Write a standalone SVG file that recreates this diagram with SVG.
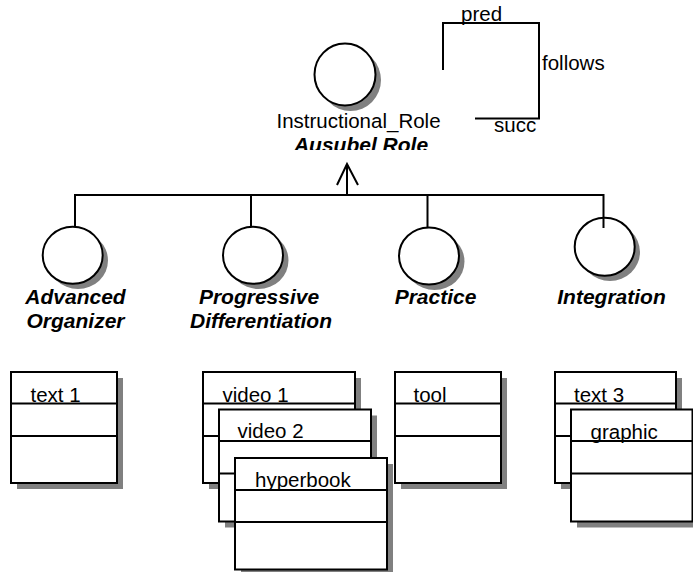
<svg xmlns="http://www.w3.org/2000/svg" width="693" height="572" viewBox="0 0 693 572">
<defs>
<style>
.t{font-family:"Liberation Sans",Arial,sans-serif;font-size:20.5px;fill:#000}
.b{font-family:"Liberation Sans",Arial,sans-serif;font-size:21px;font-weight:bold;font-style:italic;fill:#000;text-anchor:middle}
.sh{fill:#808080;stroke:none}
.bx{fill:#fff;stroke:#000;stroke-width:2}
.ln{fill:none;stroke:#000;stroke-width:2}
</style>
<clipPath id="clipAus"><rect x="0" y="0" width="693" height="150"/></clipPath>
</defs>
<rect width="693" height="572" fill="#fff"/>

<g id="connectors">
<path class="ln" d="M75,227 V195 H603.5 V228 M251,195 V227 M427.5,195 V227 M347,195 V164"/>
<path class="ln" d="M337,185 L347,164 L358,185"/>
<path class="ln" d="M443,70 V23 H539 V118.5 H475"/>
<text class="t" x="461" y="21">pred</text>
<text class="t" x="542" y="70">follows</text>
<text class="t" x="494" y="132">succ</text>
</g>

<g id="instructional_role">
<ellipse class="sh" cx="350.5" cy="80" rx="30.5" ry="31"/>
<ellipse class="bx" cx="345" cy="74.5" rx="30.5" ry="31"/>
<text class="t" x="358.5" y="127.5" text-anchor="middle">Instructional_Role</text>
<text class="b" x="361" y="152" clip-path="url(#clipAus)">Ausubel Role</text>
</g>

<g id="advanced_organizer">
<ellipse class="sh" cx="78" cy="260.5" rx="30" ry="28.5"/>
<ellipse class="bx" cx="72.7" cy="255.3" rx="30" ry="28.5"/>
<text class="b" x="75.5" y="303.5">Advanced</text>
<text class="b" x="75.5" y="327.5">Organizer</text>
</g>

<g id="progressive_differentiation">
<ellipse class="sh" cx="258.5" cy="260.5" rx="30" ry="28.5"/>
<ellipse class="bx" cx="253" cy="255.3" rx="30" ry="28.5"/>
<text class="b" x="259" y="303.5">Progressive</text>
<text class="b" x="261" y="327.5">Differentiation</text>
</g>

<g id="practice">
<ellipse class="sh" cx="434.5" cy="261.5" rx="30" ry="28.5"/>
<ellipse class="bx" cx="429" cy="256" rx="30" ry="28.5"/>
<text class="b" x="435.5" y="304">Practice</text>
</g>

<g id="integration">
<ellipse class="sh" cx="610" cy="252" rx="30" ry="29"/>
<ellipse class="bx" cx="604.7" cy="246.7" rx="30" ry="29"/>
<path class="ln" d="M603.5,217 V228"/>
<text class="b" x="611.5" y="304">Integration</text>
</g>

<g id="text1">
<rect class="sh" x="17" y="378" width="106" height="111"/>
<rect class="bx" x="11" y="372" width="106" height="111"/>
<path class="ln" d="M11,403.5 H117 M11,436 H117"/>
<text class="t" x="30.5" y="401.5">text 1</text>
</g>

<g id="video1">
<rect class="sh" x="209" y="378" width="152" height="111"/>
<rect class="bx" x="203" y="372" width="152" height="111"/>
<path class="ln" d="M203,403.5 H355 M203,436 H355"/>
<text class="t" x="222.5" y="401.5">video 1</text>
</g>

<g id="video2">
<rect class="sh" x="225" y="415.5" width="152" height="112"/>
<rect class="bx" x="219" y="409.5" width="152" height="112"/>
<path class="ln" d="M219,441 H371 M219,473.5 H371"/>
<text class="t" x="237.5" y="437.5">video 2</text>
</g>

<g id="hyperbook">
<rect class="sh" x="241" y="464" width="152" height="111.5"/>
<rect class="bx" x="235" y="458" width="152" height="111.5"/>
<path class="ln" d="M235,490 H387 M235,522 H387"/>
<text class="t" x="255" y="487">hyperbook</text>
</g>

<g id="tool">
<rect class="sh" x="401" y="378" width="106" height="111"/>
<rect class="bx" x="395" y="372" width="106" height="111"/>
<path class="ln" d="M395,403.5 H501 M395,436 H501"/>
<text class="t" x="413.5" y="401.5">tool</text>
</g>

<g id="text3">
<rect class="sh" x="561" y="378" width="121" height="111"/>
<rect class="bx" x="555" y="372" width="121" height="111"/>
<path class="ln" d="M555,403.5 H676 M555,436 H676"/>
<text class="t" x="574" y="401.5">text 3</text>
</g>

<g id="graphic">
<rect class="sh" x="577" y="415.5" width="121.5" height="112"/>
<rect class="bx" x="571" y="409.5" width="121.5" height="112"/>
<path class="ln" d="M571,441 H692.5 M571,473.5 H692.5"/>
<text class="t" x="590.5" y="439">graphic</text>
</g>
</svg>
